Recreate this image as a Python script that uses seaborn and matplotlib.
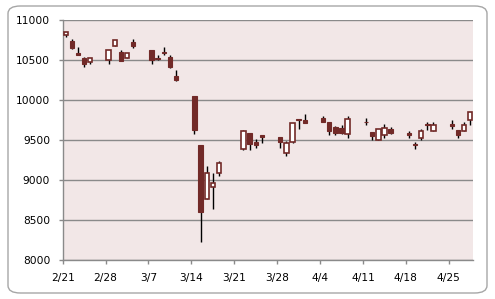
import matplotlib
matplotlib.use("Agg")
import matplotlib.pyplot as plt
import matplotlib.dates as mdates
from matplotlib.patches import FancyBboxPatch
import seaborn as sns
import pandas as pd
import numpy as np

dates = ["2011-02-21", "2011-02-22", "2011-02-23", "2011-02-24", "2011-02-25",
         "2011-02-28", "2011-03-01", "2011-03-02", "2011-03-03", "2011-03-04",
         "2011-03-07", "2011-03-08", "2011-03-09", "2011-03-10", "2011-03-11",
         "2011-03-14", "2011-03-15", "2011-03-16", "2011-03-17", "2011-03-18",
         "2011-03-22", "2011-03-23", "2011-03-24", "2011-03-25",
         "2011-03-28", "2011-03-29", "2011-03-30", "2011-03-31", "2011-04-01",
         "2011-04-04", "2011-04-05", "2011-04-06", "2011-04-07", "2011-04-08",
         "2011-04-11", "2011-04-12", "2011-04-13", "2011-04-14", "2011-04-15",
         "2011-04-18", "2011-04-19", "2011-04-20", "2011-04-21", "2011-04-22",
         "2011-04-25", "2011-04-26", "2011-04-27", "2011-04-28"]
open_ = [10808, 10737, 10592, 10521, 10471,
         10496, 10671, 10596, 10521, 10725,
         10621, 10529, 10600, 10537, 10300,
         10044, 9441, 8767, 8913, 9092,
         9392, 9587, 9475, 9562,
         9537, 9342, 9479, 9765, 9750,
         9775, 9725, 9662, 9650, 9579,
         9725, 9600, 9504, 9567, 9637,
         9592, 9454, 9529, 9705, 9612,
         9704, 9625, 9617, 9750]
high = [10846, 10758, 10658, 10537, 10521,
        10621, 10746, 10621, 10583, 10758,
        10621, 10558, 10658, 10558, 10371,
        10050, 9441, 9169, 9093, 9237,
        9625, 9587, 9512, 9562,
        9537, 9487, 9709, 9765, 9825,
        9800, 9725, 9675, 9687, 9800,
        9775, 9600, 9641, 9700, 9662,
        9617, 9480, 9637, 9725, 9725,
        9750, 9625, 9725, 9850]
low = [10784, 10633, 10558, 10417, 10446,
       10446, 10671, 10483, 10521, 10654,
       10446, 10496, 10558, 10400, 10242,
       9579, 8227, 8763, 8639, 9056,
       9380, 9380, 9405, 9465,
       9405, 9305, 9460, 9642, 9708,
       9719, 9567, 9567, 9579, 9530,
       9692, 9504, 9504, 9530, 9579,
       9521, 9392, 9504, 9629, 9612,
       9642, 9530, 9617, 9692]
close = [10846, 10654, 10567, 10446, 10521,
         10621, 10746, 10483, 10583, 10679,
         10496, 10512, 10583, 10417, 10254,
         9620, 8605, 9093, 8962, 9207,
         9608, 9449, 9435, 9536,
         9479, 9459, 9709, 9755, 9708,
         9719, 9616, 9584, 9591, 9768,
         9720, 9555, 9641, 9654, 9592,
         9557, 9441, 9607, 9686, 9682,
         9672, 9559, 9692, 9850]
x_tick_labels = ["2/21", "2/28", "3/7", "3/14", "3/21", "3/28", "4/4", "4/11", "4/18", "4/25"]
y_ticks = [8000, 8500, 9000, 9500, 10000, 10500, 11000]

df = pd.DataFrame({"date": pd.to_datetime(dates), "open": open_, "high": high,
                   "low": low, "close": close})

sns.set_theme(style="white")
plt.rcParams["font.family"] = ["DejaVu Sans"]

W, H = 495, 299
fig = plt.figure(figsize=(W / 100, H / 100), dpi=100)
fig.patch.set_facecolor("white")

# chart-area rounded border
border = FancyBboxPatch((8 / W, 6 / H), 479 / W, 287 / H,
                        boxstyle="round,pad=0,rounding_size=0.025",
                        transform=fig.transFigure, facecolor="white",
                        edgecolor="#a6a6a6", linewidth=1.0, zorder=-10)
fig.add_artist(border)

left, right, top, bottom = 62.7, 473.3, 20, 260
ax = fig.add_axes([left / W, 1 - bottom / H, (right - left) / W, (bottom - top) / H])
ax.set_zorder(1)
ax.set_facecolor("#f2e7e7")

x0 = mdates.date2num(pd.Timestamp("2011-02-21"))
xpos = mdates.date2num(df["date"]) + 0.5
up = (df["close"] >= df["open"]).values
d = ~up
body_color = "#722a28"
width = 0.72

ax.vlines(xpos, df["low"], df["high"], color="black", linewidth=1.0, zorder=2)
# down candles
ax.bar(xpos[d], (df["open"] - df["close"]).values[d], bottom=df["close"].values[d],
       width=width, color=body_color, edgecolor=body_color, linewidth=0.8, zorder=3)
# up candles
ax.bar(xpos[up], (df["close"] - df["open"]).values[up], bottom=df["open"].values[up],
       width=width, color="white", edgecolor=body_color, linewidth=1.2, zorder=3)

ax.set_ylim(8000, 11000)
ax.set_yticks(y_ticks)
ax.set_yticklabels([str(v) for v in y_ticks])
ax.set_xlim(x0, x0 + 67)
ax.set_xticks([x0 + 7 * i for i in range(len(x_tick_labels))])
ax.set_xticklabels(x_tick_labels)

ax.yaxis.grid(True, color="#8a8a8a", linewidth=1.0)
ax.xaxis.grid(False)
ax.set_axisbelow(True)
for s in ["top", "right"]:
    ax.spines[s].set_visible(False)
for s in ["left", "bottom"]:
    ax.spines[s].set_color("#8a8a8a")
    ax.spines[s].set_linewidth(1.0)

ax.tick_params(axis="both", which="major", direction="out", length=3,
               width=1.0, color="#8a8a8a", labelsize=7.7, labelcolor="black",
               left=True, bottom=True)
ax.tick_params(axis="y", pad=6)
ax.tick_params(axis="x", pad=6)

fig.savefig("out.png", dpi=100, facecolor="white")
